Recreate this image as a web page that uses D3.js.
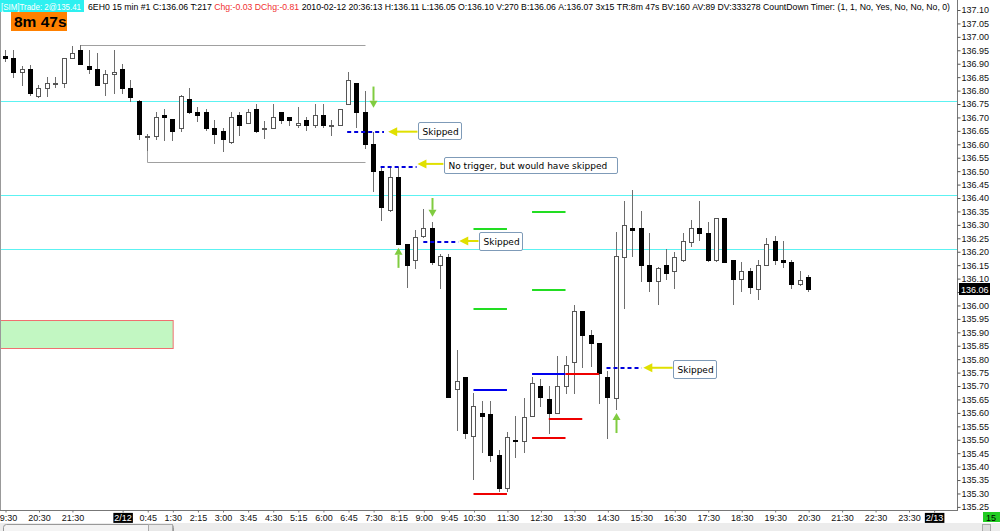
<!DOCTYPE html>
<html><head><meta charset="utf-8">
<script src="https://cdn.jsdelivr.net/npm/d3@7"></script>
<style>
body{margin:0;background:#fff;overflow:hidden}
svg{display:block}
text{font-family:"Liberation Sans",Arial,sans-serif}
</style>
</head><body>
<svg id="c" width="1000" height="531"></svg>
<script>
// ---------- DATA ----------
const opens  = [136.93,136.92,136.87,136.88,136.78,136.81,136.83,136.83,136.92,136.95,136.89,136.88,136.83,136.86,136.88,136.81,136.76,136.63,136.63,136.71,136.695,136.66,136.77,136.72,136.72,136.66,136.65,136.61,136.71,136.68,136.73,136.66,136.66,136.72,136.70,136.67,136.69,136.67,136.71,136.67,136.67,136.75,136.83,136.72,136.60,136.50,136.355,136.48,136.23,136.17,136.26,136.29,136.15,136.18,135.69,135.735,135.515,135.60,135.595,135.445,135.32,135.50,135.495,135.59,135.70,135.65,135.60,135.70,135.79,135.98,135.89,135.86,135.735,135.655,136.18,136.29,136.29,136.15,136.09,136.15,136.13,136.17,136.235,136.29,136.27,136.17,136.325,136.17,136.10,136.13,136.06,136.15,136.24,136.17,136.16,136.08,136.105];
const highs  = [136.95,136.95,136.89,136.895,136.82,136.85,136.85,136.92,136.965,136.97,136.95,136.94,136.875,136.95,136.90,136.84,136.765,136.64,136.72,136.73,136.695,136.785,136.81,136.74,136.73,136.69,136.66,136.72,136.72,136.73,136.75,136.685,136.75,136.72,136.70,136.74,136.70,136.75,136.75,136.69,136.73,136.87,136.83,136.80,136.645,136.515,136.515,136.515,136.23,136.28,136.36,136.31,136.19,136.19,135.835,135.735,135.675,135.645,135.645,135.46,135.53,135.59,135.655,135.735,135.725,135.70,135.81,135.81,136.00,135.98,135.91,135.86,135.755,136.275,136.39,136.43,136.35,136.27,136.145,136.21,136.20,136.27,136.32,136.39,136.31,136.325,136.325,136.17,136.16,136.14,136.17,136.25,136.26,136.24,136.17,136.13,136.115];
const lows   = [136.91,136.85,136.82,136.785,136.775,136.78,136.815,136.815,136.92,136.90,136.865,136.82,136.785,136.79,136.79,136.76,136.62,136.58,136.62,136.615,136.615,136.65,136.715,136.685,136.655,136.605,136.575,136.605,136.635,136.68,136.645,136.625,136.66,136.68,136.67,136.665,136.655,136.665,136.665,136.635,136.67,136.75,136.665,136.585,136.425,136.32,136.35,136.23,136.07,136.14,136.255,136.155,136.065,135.66,135.535,135.505,135.355,135.455,135.42,135.31,135.31,135.435,135.455,135.59,135.625,135.525,135.60,135.675,135.675,135.77,135.775,135.635,135.505,135.615,135.99,136.185,136.09,136.055,136.005,136.10,136.065,136.165,136.22,136.245,136.165,136.165,136.16,136.005,136.055,136.045,136.025,136.15,136.155,136.145,136.065,136.075,136.055];
const closes = [136.92,136.87,136.88,136.79,136.81,136.83,136.83,136.92,136.94,136.90,136.88,136.82,136.86,136.87,136.81,136.775,136.64,136.63,136.70,136.70,136.65,136.78,136.72,136.71,136.66,136.64,136.62,136.70,136.67,136.72,136.65,136.66,136.70,136.69,136.69,136.68,136.67,136.71,136.67,136.67,136.73,136.84,136.72,136.60,136.50,136.365,136.48,136.23,136.15,136.255,136.29,136.16,136.185,135.66,135.72,135.525,135.625,135.59,135.445,135.32,135.51,135.495,135.585,135.71,135.66,135.60,135.70,135.78,135.98,135.89,135.86,135.75,135.66,136.185,136.30,136.28,136.15,136.09,136.14,136.12,136.18,136.24,136.29,136.27,136.17,136.325,136.16,136.10,136.13,136.07,136.15,136.23,136.17,136.16,136.08,136.095,136.06];

const yTickValues = [137.10,137.05,137.00,136.95,136.90,136.85,136.80,136.75,136.70,136.65,136.60,136.55,136.50,136.45,136.40,136.35,136.30,136.25,136.20,136.15,136.10,136.05,136.00,135.95,135.90,135.85,135.80,135.75,135.70,135.65,135.60,135.55,135.50,135.45,135.40,135.35,135.30,135.25];
const xTickBars   = [0,4,8,14,17,20,23,26,29,32,35,38,41,44,47,50,53,56,60,64,68,72,76,80,84,88,92,96,100,104,108,111];
const xTickLabels = ["19:30","20:30","21:30","2/12","0:45","1:30","2:15","3:00","3:45","4:30","5:15","6:00","6:45","7:30","8:15","9:00","9:45","10:30","11:30","12:30","13:30","14:30","15:30","16:30","17:30","18:30","19:30","20:30","21:30","22:30","23:30","2/13"];
const dateLabels  = ["2/12","2/13"];

// horizontal reference levels across the chart
const levelPrices = [136.76,136.41,136.21];
// swing lines
const swingStart = [9,17];
const swingEnd   = [43,43];
const swingPrice = [136.97,136.535];
// shaded zone
const zoneBars = [-1,20.1], zonePrices = [135.945,135.84];
// target segments
const segStart = [56,56,56,56,63,63,63,63,65,67];
const segEnd   = [60,60,60,60,67,67,67,67,69,71];
const segPrice = [136.29,135.99,135.69,135.30,136.35,136.06,135.75,135.51,135.58,135.75];
const segKind  = ["g","g","b","r","g","g","b","r","r","r"];
// dashed entry lines
const dashStart = [40.9,44.9,50,71.9];
const dashEnd   = [45.3,49.2,54.2,76.1];
const dashPrice = [136.65,136.52,136.24,135.77];
// green signal arrows
const sigBar  = [44,47,51,73];
const sigFrom = [136.815,136.14,136.40,135.525];
const sigTo   = [136.736,136.215,136.33,135.60];
// yellow pointer arrows
const ptrTail  = [49.3,52.4,56.6,79.8];
const ptrHead  = [45.8,49.3,54.3,76.3];
const ptrPrice = [136.647,136.527,136.24,135.768];
// callouts
const noteText  = ["Skipped","No trigger, but would have skipped","Skipped","Skipped"];
const noteBar0  = [49.4,52.5,56.6,79.8];
const noteBar1  = [54.5,73.2,61.8,85.0];
const noteHi    = [136.684,136.554,136.272,135.796];
const noteLo    = [136.619,136.494,136.206,135.730];

const headerItems = ["6EH0","15 min","#1","C:136.06","T:217","Chg:-0.03","DChg:-0.81","2010-02-12","20:36:13","H:136.11","L:136.05","O:136.10","V:270","B:136.06","A:136.07","3x15","TR:8m 47s","BV:160","AV:89","DV:333278","CountDown Timer:","(1, 1, No, Yes, No, No, No, 0)"];
const headerRed = ["Chg:-0.03","DChg:-0.81"];
const simLabel = "[SIM]Trade: 2@135.41";
const timerLabel = "8m 47s";
const lastPrice = 136.06;
const periodLabel = "15";

// ---------- DRAW ----------
const svg = d3.select('#c');
const plotL = 1, plotR = 957, plotB = 510;
const x = d3.scaleLinear().domain([0,112]).range([5, 5 + 112*8.366]);
const y = d3.scaleLinear().domain([135.25,137.10]).range([506.9,10]);
const px = v => Math.round(x(v));
const py = v => Math.round(y(v));

svg.append('defs').append('clipPath').attr('id','pc')
  .append('rect').attr('x',plotL).attr('y',0).attr('width',plotR-plotL).attr('height',plotB);
const g = svg.append('g').attr('clip-path','url(#pc)');

// zone
g.append('rect')
  .attr('x', x(zoneBars[0])).attr('y', py(zonePrices[0])+0.5)
  .attr('width', x(zoneBars[1]) - x(zoneBars[0]))
  .attr('height', py(zonePrices[1]) - py(zonePrices[0]))
  .attr('fill','#c2f7c2').attr('stroke','#f07070').attr('stroke-width',1);

// levels
g.selectAll('.lvl').data(levelPrices).join('line')
  .attr('x1',plotL).attr('x2',plotR)
  .attr('y1',d=>py(d)+0.5).attr('y2',d=>py(d)+0.5)
  .attr('stroke','#5cf2f2').attr('stroke-width',1);

// swing lines
swingPrice.forEach((p,i)=>{
  g.append('line').attr('x1',px(swingStart[i])+0.5).attr('x2',px(swingEnd[i])+0.5)
    .attr('y1',py(p)+0.5).attr('y2',py(p)+0.5).attr('stroke','#a0a0a0');
});
g.append('line').attr('x1',px(swingStart[1])+0.5).attr('x2',px(swingStart[1])+0.5)
  .attr('y1',py(lows[17])).attr('y2',py(swingPrice[1])+0.5).attr('stroke','#a0a0a0');

// candles
const candles = d3.range(opens.length).map(i=>({i,o:opens[i],h:highs[i],l:lows[i],c:closes[i]}));
const cg = g.append('g');
cg.selectAll('.wick').data(candles).join('line')
  .attr('x1',d=>px(d.i)+0.5).attr('x2',d=>px(d.i)+0.5)
  .attr('y1',d=>py(d.h)).attr('y2',d=>py(d.l)+1)
  .attr('stroke','#6e6e6e').attr('stroke-width',1);
cg.selectAll('.body').data(candles).join('rect')
  .attr('x',d=>px(d.i)-1.5).attr('width',4)
  .attr('y',d=>py(Math.max(d.o,d.c))+0.5)
  .attr('height',d=>Math.max(1, py(Math.min(d.o,d.c))-py(Math.max(d.o,d.c))))
  .attr('fill',d=>d.c<d.o?'#000':'#fff')
  .attr('stroke',d=>d.c<d.o?'#000':'#555').attr('stroke-width',1);

// target segments
const segColor = {g:'#22dd22', b:'#0000ee', r:'#ee0000'};
segPrice.forEach((p,i)=>{
  g.append('line').attr('x1',x(segStart[i])).attr('x2',x(segEnd[i]))
    .attr('y1',py(p)+1).attr('y2',py(p)+1)
    .attr('stroke',segColor[segKind[i]]).attr('stroke-width',2);
});
// dashed entry lines
dashPrice.forEach((p,i)=>{
  g.append('line').attr('x1',x(dashStart[i])).attr('x2',x(dashEnd[i]))
    .attr('y1',py(p)+1).attr('y2',py(p)+1)
    .attr('stroke','#0000dd').attr('stroke-width',2).attr('stroke-dasharray','4,3');
});
// green signal arrows
sigBar.forEach((b,i)=>{
  const cx = px(b)+0.5, y0 = y(sigFrom[i]), y1 = y(sigTo[i]);
  const dir = Math.sign(y1-y0);
  const hb = y1 - dir*7;
  g.append('line').attr('x1',cx).attr('x2',cx).attr('y1',y0).attr('y2',hb)
    .attr('stroke','#80cc40').attr('stroke-width',2);
  g.append('path').attr('d',`M${cx-4},${hb}L${cx+4},${hb}L${cx},${y1}Z`).attr('fill','#80cc40');
});
// yellow pointers
ptrPrice.forEach((p,i)=>{
  const yy = y(p), xh = x(ptrHead[i]), xt = x(ptrTail[i]);
  g.append('line').attr('x1',xh+8).attr('x2',xt).attr('y1',yy).attr('y2',yy)
    .attr('stroke','#e0e000').attr('stroke-width',2);
  g.append('path').attr('d',`M${xh},${yy}L${xh+9},${yy-4.5}L${xh+9},${yy+4.5}Z`).attr('fill','#e0e000');
});
// callouts
noteText.forEach((t,i)=>{
  const x0 = Math.round(x(noteBar0[i]))+0.5, x1 = Math.round(x(noteBar1[i]))+0.5;
  const y0 = Math.round(y(noteHi[i]))+0.5, y1 = Math.round(y(noteLo[i]))+0.5;
  g.append('rect').attr('x',x0).attr('y',y0).attr('width',x1-x0).attr('height',y1-y0)
    .attr('rx',1.5).attr('fill','#fff').attr('stroke','#7f9bb8');
  g.append('text').attr('x',x0+4).attr('y',(y0+y1)/2+3.5).text(t)
    .attr('fill','#000')
    .style('font-family','"DejaVu Sans",sans-serif').style('font-size','9px');
});

// axes frame
svg.append('line').attr('x1',0.5).attr('x2',0.5).attr('y1',0).attr('y2',plotB).attr('stroke','#999');
svg.append('line').attr('x1',plotR+0.5).attr('x2',plotR+0.5).attr('y1',0).attr('y2',plotB+1).attr('stroke','#777');
svg.append('line').attr('x1',0).attr('x2',plotR+1).attr('y1',plotB+0.5).attr('y2',plotB+0.5).attr('stroke','#777');

// right axis via d3 (label hidden under the last-price tag is omitted, as in the reference)
const hiddenTick = v => Math.abs(y(v) - y(lastPrice)) < 8 && v !== lastPrice;
const yAxis = d3.axisRight(y).tickValues(yTickValues)
  .tickFormat(d => hiddenTick(d) ? '' : d3.format('.2f')(d)).tickSize(3).tickPadding(1);
const ya = svg.append('g').attr('transform',`translate(${plotR+0.5},0)`).call(yAxis);
ya.select('.domain').remove();
ya.selectAll('line').attr('stroke','#555');
ya.selectAll('text').attr('font-size',9).attr('fill','#111').style('font-family','"Liberation Sans",Arial,sans-serif');

// last price tag
const lp = svg.append('g');
lp.append('rect').attr('x',959).attr('y',py(lastPrice)-6).attr('width',31).attr('height',12).attr('fill','#000');
lp.append('text').attr('x',961).attr('y',py(lastPrice)+3.5).text(lastPrice.toFixed(2))
  .attr('fill','#fff').attr('font-size',9);

// bottom axis via d3
const xAxis = d3.axisBottom(x).tickValues(xTickBars).tickFormat((d,i)=>xTickLabels[i]).tickSize(2).tickPadding(2);
const xa = svg.append('g').attr('transform',`translate(0.5,${plotB+0.5})`).call(xAxis);
xa.select('.domain').remove();
xa.selectAll('line').attr('stroke','#777');
xa.selectAll('text').attr('font-size',9).attr('fill','#111').style('font-family','"Liberation Sans",Arial,sans-serif');
xa.selectAll('.tick').each(function(d,i){
  if(dateLabels.includes(xTickLabels[i])){
    const t = d3.select(this).select('text');
    const bb = t.node().getBBox();
    d3.select(this).insert('rect','text').attr('x',bb.x-1).attr('y',bb.y).attr('width',bb.width+2).attr('height',bb.height).attr('fill','#000');
    t.attr('fill','#fff');
  }
});

// bottom strip
svg.append('rect').attr('x',0).attr('y',523).attr('width',1000).attr('height',8).attr('fill','#ececec');
svg.append('rect').attr('x',3.5).attr('y',524.5).attr('width',170).attr('height',10).attr('rx',3).attr('fill','#f4f4f4').attr('stroke','#999');
svg.append('rect').attr('x',148.5).attr('y',524.5).attr('width',24).attr('height',10).attr('fill','#e8e8e8').attr('stroke','#aaa');
svg.append('rect').attr('x',982.5).attr('y',524.5).attr('width',8).attr('height',7).attr('fill','#ddd').attr('stroke','#aaa');

// period tag
svg.append('rect').attr('x',983).attr('y',512).attr('width',17).attr('height',10).attr('fill','#22cc22');
svg.append('text').attr('x',986).attr('y',520.5).text(periodLabel).attr('font-size',9).attr('fill','#000');

// header
const hdr = svg.append('g');
hdr.append('rect').attr('x',0).attr('y',0).attr('width',84).attr('height',12).attr('fill','#2ef0f0');
hdr.append('text').attr('x',1).attr('y',9.5).text(simLabel).attr('font-size',8.5).attr('fill','#fff')
  .attr('textLength',80).attr('lengthAdjust','spacingAndGlyphs');
const hx0 = 88, hx1 = 950;
const nodes = headerItems.map(t => hdr.append('text').attr('y',9.5).text(t).attr('font-size',8.7)
   .attr('fill', headerRed.includes(t)?'#f03030':'#000'));
const widths = nodes.map(n=>n.node().getComputedTextLength());
const gap = (hx1-hx0-d3.sum(widths))/(nodes.length-1);
let cx = hx0;
nodes.forEach((n,i)=>{ n.attr('x',cx); cx += widths[i]+gap; });

// timer badge
svg.append('rect').attr('x',11).attr('y',12).attr('width',56).attr('height',19).attr('fill','#ff8000');
svg.append('text').attr('x',14).attr('y',27).text(timerLabel).attr('font-size',15.5).attr('font-weight','bold').attr('fill','#000');
</script>
</body></html>
